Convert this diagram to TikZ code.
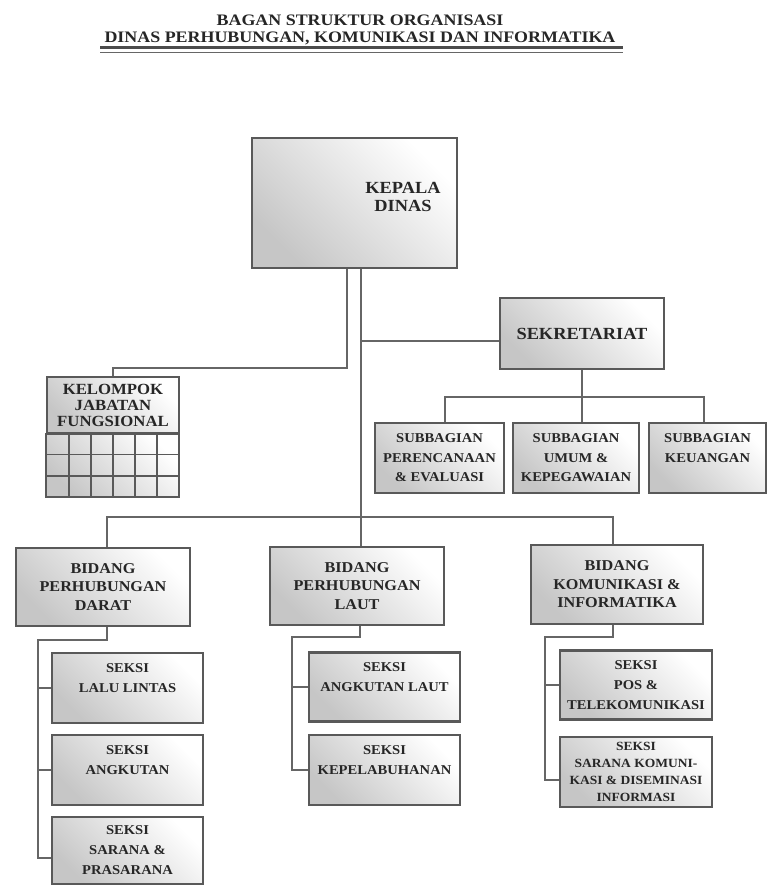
\documentclass[tikz,border=0pt]{standalone}
\usepackage{fontspec}
\setmainfont{Liberation Serif}[FakeStretch=1.08]
\newfontfamily\titlefont{Liberation Serif}[FakeStretch=1.12]

\begin{document}
\begin{tikzpicture}[x=1pt,y=-1pt,
  unitbox/.style={rectangle,draw=black!65,line width=2.2pt,top color=white,bottom color=gray!45,shading angle=-45,align=center,inner sep=1pt,text=black!85},
  headbox/.style={unitbox,font=\bfseries\fontsize{17}{18}\selectfont},
  headtext/.style={align=center,text=black!85,font=\bfseries\fontsize{17}{18}\selectfont},
  titletext/.style={align=center,text=black!85,font=\titlefont\bfseries\fontsize{16}{16.5}\selectfont},
  subbox/.style={unitbox,minimum height=70pt,font=\bfseries\fontsize{13.5}{19.5}\selectfont},
  bidbox/.style={unitbox,minimum width=174pt,minimum height=78pt,font=\bfseries\fontsize{15}{18.5}\selectfont},
  seksibox/.style={unitbox,minimum width=151pt,minimum height=70pt,font=\bfseries\fontsize{13.5}{20}\selectfont},
  conn/.style={draw=black!60,line width=1.5pt},
  gridline/.style={draw=black!65,line width=1.6pt}]
\fill[white] (0,0) rectangle (768,885);
\useasboundingbox (0,0) rectangle (768,885);

\node[titletext] (title) at (360,30) {BAGAN STRUKTUR ORGANISASI\\DINAS PERHUBUNGAN, KOMUNIKASI DAN INFORMATIKA};
\draw[line width=3pt,black!70] (100,48) -- (623,48);
\draw[line width=1pt,black!60] (100,53) -- (623,53);

\node[headbox,minimum width=205pt,minimum height=130pt] (kepala) at (354.5,203) {};
\node[headtext] (kepalatext) at (403,197) {KEPALA\\DINAS};
\node[headbox,minimum width=164pt,minimum height=71pt] (sekretariat) at (582,333.5) {SEKRETARIAT};
\node[subbox,minimum width=129pt] (subrenev) at (439.5,458) {SUBBAGIAN\\PERENCANAAN\\\& EVALUASI};
\node[subbox,minimum width=126pt] (subumum) at (576,458) {SUBBAGIAN\\UMUM \&\\KEPEGAWAIAN};
\node[subbox,minimum width=117pt] (subkeu) at (707.5,458) {SUBBAGIAN\\KEUANGAN\\\mbox{}};

\node[unitbox,minimum width=132pt,minimum height=56pt,font=\bfseries\fontsize{15.5}{16}\selectfont] (kelompok) at (113,405) {KELOMPOK\\JABATAN\\FUNGSIONAL};
\shade[top color=white,bottom color=gray!45,shading angle=-45] (kelompok.south west) rectangle (179,497);
\foreach \gx in {69,91,113,135,157} \draw[gridline] (\gx,433) -- (\gx,497);
\foreach \gy in {454.3,475.7} \draw[gridline] (47,\gy) -- (179,\gy);
\draw[gridline,line width=2.2pt] (kelompok.south west) rectangle (179,497);

\node[bidbox] (darat) at (103,587) {BIDANG\\PERHUBUNGAN\\DARAT};
\node[bidbox] (laut) at (357,586) {BIDANG\\PERHUBUNGAN\\LAUT};
\node[bidbox,minimum width=172pt,minimum height=79pt] (kominfo) at (617,584.5) {BIDANG\\KOMUNIKASI \&\\INFORMATIKA};

\node[seksibox] (lalulintas) at (127.5,688) {SEKSI\\LALU LINTAS\\\mbox{}};
\node[seksibox] (angkutan) at (127.5,770) {SEKSI\\ANGKUTAN\\\mbox{}};
\node[seksibox,minimum height=67pt] (prasarana) at (127.5,850.5) {SEKSI\\SARANA \&\\PRASARANA};
\node[seksibox,minimum height=69pt] (angkutanlaut) at (384.5,687) {SEKSI\\ANGKUTAN LAUT\\\mbox{}};
\node[seksibox] (kepelabuhanan) at (384.5,770) {SEKSI\\KEPELABUHANAN\\\mbox{}};
\node[seksibox,minimum width=152pt,minimum height=69pt] (postel) at (636,685) {SEKSI\\POS \&\\TELEKOMUNIKASI};
\node[seksibox,minimum width=152pt,font=\bfseries\fontsize{12.5}{17}\selectfont] (sarkom) at (636,772) {SEKSI\\SARANA KOMUNI-\\KASI \& DISEMINASI\\INFORMASI};

\coordinate (trunk) at ([xshift=6.5pt]kepala.south);
\coordinate (bus) at (361,517);
\draw[conn] ([xshift=-7.5pt]kepala.south) -- ++(0,99) -| (kelompok.north);
\draw[conn] (trunk) -- ([xshift=4pt]laut.north);
\coordinate (sekin) at ([yshift=-7.5pt]sekretariat.west);
\draw[conn] (sekin) -- (sekin -| trunk);
\coordinate (subbus) at ([yshift=-27pt]sekretariat.south);
\draw[conn] (sekretariat.south) -- (sekretariat.south |- subumum.north);
\draw[conn] ([xshift=5.5pt]subrenev.north) |- (subbus) -| ([xshift=-3.5pt]subkeu.north);
\draw[conn] ([xshift=4pt]darat.north) |- (bus) -| ([xshift=-4pt]kominfo.north);

\coordinate (dspine) at (38,640);
\draw[conn] ([xshift=4pt]darat.south) |- (dspine) |- ([yshift=-7.5pt]prasarana.west);
\draw[conn] (lalulintas.west) -- (lalulintas.west -| dspine);
\draw[conn] (angkutan.west) -- (angkutan.west -| dspine);

\coordinate (lspine) at (292,637);
\draw[conn] ([xshift=3pt]laut.south) |- (lspine) |- (kepelabuhanan.west);
\draw[conn] (angkutanlaut.west) -- (angkutanlaut.west -| lspine);

\coordinate (kspine) at (545,637);
\draw[conn] ([xshift=-4pt]kominfo.south) |- (kspine) |- ([yshift=-8pt]sarkom.west);
\draw[conn] (postel.west) -- (postel.west -| kspine);
\end{tikzpicture}
\end{document}
